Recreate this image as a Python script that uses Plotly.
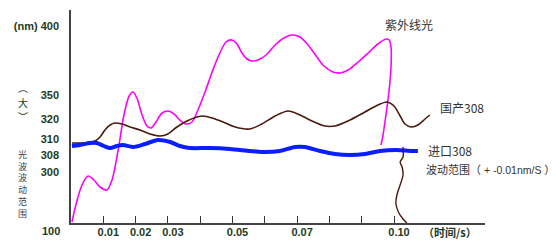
import plotly.graph_objects as go

# time axis (s)
uv_t = [0.0003,0.0015,0.0034,0.0053,0.0071,0.0090,0.0111,0.0127,0.0146,0.0164,0.0180,0.0192,0.0204,0.0220,0.0235,0.0248,0.0263,0.0282,0.0300,0.0319,0.0337,0.0356,0.0375,0.0393,0.0415,0.0437,0.0458,0.0480,0.0498,0.0514,0.0529,0.0545,0.0560,0.0579,0.0604,0.0632,0.0659,0.0684,0.0709,0.0734,0.0759,0.0783,0.0811,0.0833,0.0858,0.0889,0.0920,0.0950,0.0975,0.0985,0.0991,0.0991,0.0985,0.0975,0.0966,0.0960]
uv_v = [1,18,38,47,43,36,33,43,73,108,127,131,125,108,97,95,101,110,112,109,103,99,101,113,131,151,168,181,183,179,170,164,162,163,168,178,185,188,186,178,167,157,151,150,153,161,170,179,184,183,175,158,133,108,88,78]

dom_t = [0.0003,0.0043,0.0074,0.0090,0.0105,0.0121,0.0136,0.0158,0.0183,0.0214,0.0245,0.0276,0.0300,0.0328,0.0359,0.0390,0.0409,0.0437,0.0471,0.0508,0.0554,0.0591,0.0632,0.0672,0.0709,0.0746,0.0786,0.0817,0.0864,0.0910,0.0950,0.0978,0.1000,0.1019,0.1034,0.1053,0.1074,0.1096,0.1111]
dom_v = [80,80,82,86,93,98,100,99,96,93,89,87,89,96,102,106,107,105,101,96,94,99,107,112,108,102,97,97,103,111,118,121,117,107,99,96,98,104,108]

rng_t = [0.1028,0.1028,0.1019,0.1025,0.1028,0.1019,0.1009,0.1006,0.1015,0.1028,0.1040]
rng_v = [76,66,61,56,48,38,28,19,10,4,0]

imp_t = [0.0003,0.0028,0.0059,0.0080,0.0102,0.0121,0.0142,0.0161,0.0192,0.0229,0.0269,0.0307,0.0337,0.0368,0.0430,0.0492,0.0554,0.0594,0.0647,0.0693,0.0724,0.0771,0.0817,0.0864,0.0910,0.0957,0.1009,0.1050,0.1074]
imp_v = [77,78,80,80,77,75,77,78,76,79,83,81,77,75,75,74,72,71,72,76,76,72,69,68,69,72,73,72,72]

x_tickvals = [0.01,0.02,0.03,0.04,0.05,0.06,0.07,0.08,0.09,0.10]
x_ticktext = ["0.01","0.02","0.03","","0.05","","0.07","","","0.10"]
y_tickvals = [197,128,104,84,68,51]
y_ticktext = ["(nm) 400","350","320","310","308","300"]

lab_color = "#1e3a1e"
lab_font = dict(family="Liberation Sans", size=11, color=lab_color, weight="bold")
cjk = "Noto Sans CJK SC"

fig = go.Figure()
fig.add_trace(go.Scatter(x=uv_t, y=uv_v, mode="lines", line=dict(color="#ff00ff", width=1.6, shape="spline", smoothing=0.8)))
fig.add_trace(go.Scatter(x=dom_t, y=dom_v, mode="lines", line=dict(color="#4a1a0e", width=1.6, shape="spline", smoothing=0.8)))
fig.add_trace(go.Scatter(x=imp_t, y=imp_v, mode="lines", line=dict(color="#0a1eff", width=4, shape="spline", smoothing=0.8)))
fig.add_trace(go.Scatter(x=rng_t, y=rng_v, mode="lines", line=dict(color="#4a1a0e", width=1.4, shape="spline", smoothing=0.8)))

W, H = 557, 242
L, R, T, B = 71, 72, 10, 19
pw, ph = W - L - R, H - T - B
def px(xp): return (xp - L) / pw
def py(yp): return (H - B - yp) / ph

anns = [
    dict(x=0.0966, y=199, text="紫外线光", xanchor="left", font=dict(family=cjk, size=12, color="#333")),
    dict(x=0.1136, y=116, text="国产308", xanchor="left", font=dict(family=cjk, size=12, color="#333")),
    dict(x=0.1099, y=73, text="进口308", xanchor="left", font=dict(family=cjk, size=12, color="#333")),
    dict(x=0.1096, y=54, text='波动范围（<span style="font-family:Liberation Sans;font-size:10.5px"> + -0.01nm/S </span>）',
         xanchor="left", font=dict(family=cjk, size=11, color="#333"), borderpad=0),
]
for a in anns:
    a.update(xref="x", yref="y", showarrow=False, yanchor="middle")

extra = [
    dict(x=px(62), y=py(231), text="100", xanchor="right", font=lab_font),
    dict(x=px(421), y=py(232), text="（时间/s）", xanchor="left", font=dict(family=cjk, size=11, color=lab_color, weight="bold")),
    dict(x=px(22), y=py(184), text="光<br>波<br>波<br>动<br>范<br>围", xanchor="center", font=dict(family=cjk, size=9, color="#444")),
]
for ch, yp in zip(["︵", "大", "︶"], [87, 102, 117]):
    extra.append(dict(x=px(23), y=py(yp), text=ch, xanchor="center", borderpad=0,
                      font=dict(family=cjk, size=10, color="#1e3a1e")))
for e in extra:
    e.update(xref="paper", yref="paper", showarrow=False, yanchor="middle")
    anns.append(e)

fig.update_layout(
    annotations=anns,
    width=W, height=H,
    margin=dict(l=L, r=R, t=T, b=B, pad=0, autoexpand=False),
    paper_bgcolor="white", plot_bgcolor="white",
    showlegend=False,
    xaxis=dict(range=[0, (485 - 71) / 3230], tickvals=x_tickvals, ticktext=x_ticktext,
               ticks="inside", ticklen=7, tickwidth=1.2, tickcolor="#333", automargin=False,
               showline=True, linecolor="#444", linewidth=1.5, showgrid=False, zeroline=False,
               tickfont=lab_font, ticklabelshift=5, ticklabelstandoff=-2),
    yaxis=dict(range=[0, 213], tickvals=y_tickvals, ticktext=y_ticktext, ticks="", automargin=False,
               showline=True, linecolor="#444", linewidth=1.5, showgrid=False, zeroline=False,
               tickfont=lab_font, ticklabelstandoff=8),
)
fig.write_html("out.html")
